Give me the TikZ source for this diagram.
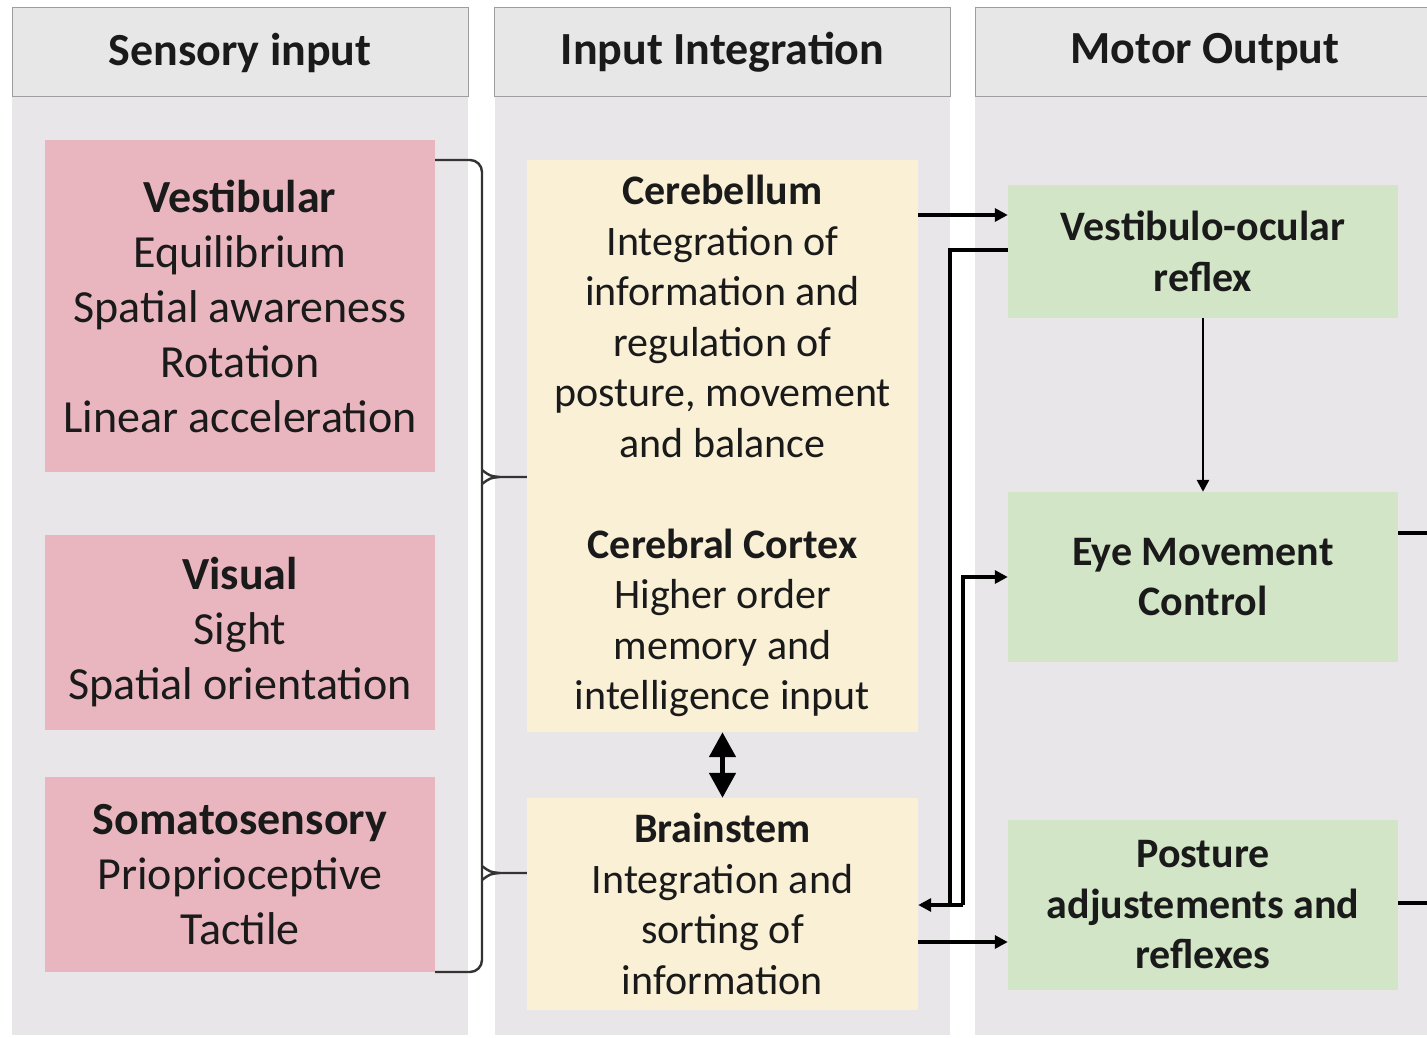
\documentclass[tikz,border=0pt]{standalone}
\usepackage{fontspec}
\setmainfont{Carlito}
\usetikzlibrary{arrows.meta,calc}
\definecolor{colbg}{HTML}{E8E6E9}
\definecolor{headfill}{HTML}{E7E7E7}
\definecolor{headline}{HTML}{9E9E9E}
\definecolor{pinkc}{HTML}{E9B6BF}
\definecolor{yellowc}{HTML}{F9F0D6}
\definecolor{greenc}{HTML}{D2E5C6}
\definecolor{txt}{HTML}{1A1A1A}
\begin{document}
\begin{tikzpicture}[x=1pt,y=-1pt,
  head/.style={draw=headline,line width=1pt,fill=headfill,minimum width=456pt,minimum height=89pt,inner sep=0pt,font=\fontsize{46}{50}\selectfont\bfseries,text=txt},
  pinkbox/.style={fill=pinkc,draw=none,minimum width=390pt,inner sep=0pt,align=center,text=txt,font=\fontsize{46}{55}\selectfont},
  yellowbox/.style={fill=yellowc,draw=none,minimum width=391pt,inner sep=0pt,align=center,text=txt,font=\fontsize{42}{50.5}\selectfont},
  greenbox/.style={fill=greenc,draw=none,minimum width=390pt,inner sep=0pt,align=center,text=txt,font=\fontsize{42}{50.5}\selectfont\bfseries},
  arr/.style={line width=3.2pt,draw=black,-{Triangle[length=13pt,width=13pt]}},
  plain/.style={line width=3.2pt,draw=black},
  brace/.style={line width=2.4pt,draw=black!80}]
\useasboundingbox[fill=white] (0,0) rectangle (1427,1038);
% column backgrounds
\fill[colbg] (12,97) rectangle (468,1035);
\fill[colbg] (495,97) rectangle (950,1035);
\fill[colbg] (975,97) rectangle (1427,1035);
% headers
\node[head] (h1) at (240,52.5) {Sensory input};
\node[head] (h2) at (722.5,52.5) {Input Integration};
\node[head, minimum width=460pt] (h3) at (1205,52.5) {Motor Output};
% sensory boxes
\node[pinkbox, minimum height=332pt] (vest) at (240,306) {\textbf{Vestibular}\\Equilibrium\\Spatial awareness\\Rotation\\Linear acceleration};
\node[pinkbox, minimum height=195pt] (vis) at (240,632.5) {\textbf{Visual}\\Sight\\Spatial orientation};
\node[pinkbox, minimum height=195pt] (soma) at (240,874.5) {\textbf{Somatosensory}\\Prioprioceptive\\Tactile};
% integration boxes
\node[yellowbox, minimum height=572pt] (cereb) at (722.5,446) {\textbf{Cerebellum}\\Integration of\\information and\\regulation of\\posture, movement\\and balance\\[50.5pt]\textbf{Cerebral Cortex}\\Higher order\\memory and\\intelligence input};
\node[yellowbox, minimum height=212pt] (brain) at (722.5,904) {\textbf{Brainstem}\\Integration and\\sorting of\\information};
% motor boxes
\node[greenbox, minimum height=133pt] (vor) at (1203,251.5) {Vestibulo-ocular\\reflex};
\node[greenbox, minimum height=170pt] (eye) at (1203,577) {Eye Movement\\Control};
\node[greenbox, minimum height=170pt] (post) at (1203,905) {Posture\\adjustements and\\reflexes};
% brace
\coordinate (bt) at (482,160);
\coordinate (bb) at (482,972);
\draw[brace, rounded corners=12pt] (vest.east |- bt) -- (bt) -- (bb) -- (soma.east |- bb);
\foreach \yy/\tgt in {477/cereb, 873/brain}{
  \coordinate (c\tgt) at (482,\yy);
  \draw[brace] ($(c\tgt)+(0,-7)$) .. controls ($(c\tgt)+(8,-1)$) .. ($(c\tgt)+(18,0)$)
               ($(c\tgt)+(0,7)$) .. controls ($(c\tgt)+(8,1)$) .. ($(c\tgt)+(18,0)$)
               -- (\tgt.west |- c\tgt);
}
% arrows
\draw[arr] (cereb.east |- 0,215) -- (vor.west |- 0,215);
\coordinate (ja) at (950,905);
\coordinate (jb) at (963,905);
\draw[plain] (vor.west |- 0,250) -- (950,250) -- (ja);
\draw[arr] (jb) -- (brain.east |- jb);
\draw[arr] (jb) -- (963,577) -- (eye.west |- 0,577);
\draw[arr] (brain.east |- 0,942) -- (post.west |- 0,942);
\draw[line width=2.8pt,-{Triangle[length=12pt,width=12pt]}] (vor.south) -- (eye.north);
\draw[line width=5pt,{Triangle[length=25pt,width=26pt]}-{Triangle[length=25pt,width=26pt]}] (cereb.south) -- (brain.north);
\coordinate (r1) at (1427,533);
\coordinate (r2) at (1427,903);
\draw[plain] (eye.east |- r1) -- (r1);
\draw[plain] (post.east |- r2) -- (r2);
\end{tikzpicture}
\end{document}
